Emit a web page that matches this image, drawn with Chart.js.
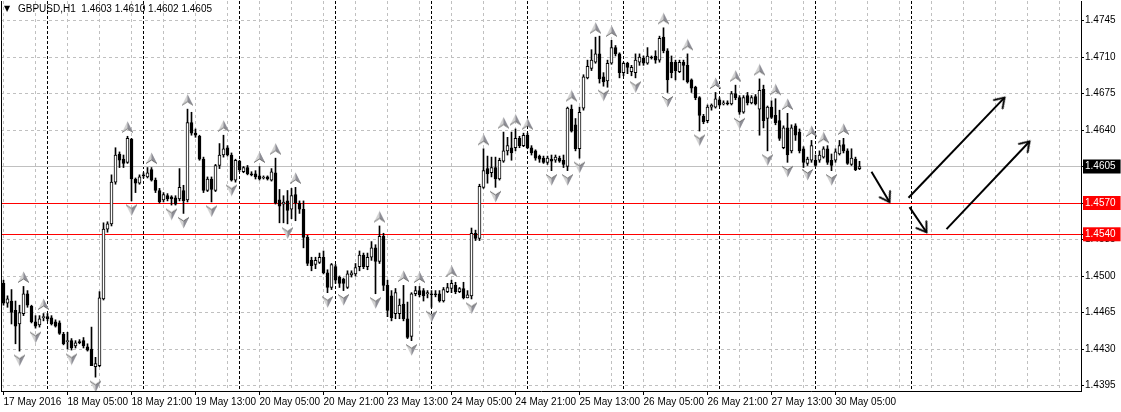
<!DOCTYPE html>
<html>
<head>
<meta charset="utf-8">
<title>GBPUSD,H1</title>
<script src="https://cdn.jsdelivr.net/npm/chart.js@4.4.1/dist/chart.umd.min.js"></script>
<style>
    html, body { margin: 0; padding: 0; background: #fff; }
    canvas { display: block; }
</style>
</head>
<body>
<canvas id="priceChart" width="1121" height="412"></canvas>
<script>
(function () {
    'use strict';

    var symbol = 'GBPUSD,H1';

    // H1 bars, 17 May 2016 13:00 .. 30 May 2016 11:00
    var barOpen = [
        1.4493,1.4474,1.4476,1.4467,1.4454,1.4464,1.4483,1.4471,1.4456,1.4453,
        1.4460,1.4461,1.4460,1.4456,1.4455,1.4444,1.4437,1.4438,1.4433,1.4437,
        1.4438,1.4432,1.4430,1.4413,1.4414,1.4478,1.4545,1.4550,1.4590,1.4617,
        1.4612,1.4609,1.4631,1.4593,1.4589,1.4597,1.4595,1.4602,1.4592,1.4582,
        1.4573,1.4577,1.4576,1.4575,1.4574,1.4582,1.4573,1.4647,1.4637,1.4634,
        1.4612,1.4582,1.4593,1.4582,1.4606,1.4616,1.4623,1.4616,1.4592,1.4610,
        1.4600,1.4604,1.4598,1.4598,1.4596,1.4594,1.4595,1.4592,1.4599,1.4573,
        1.4569,1.4572,1.4564,1.4578,1.4570,1.4564,1.4537,1.4515,1.4511,1.4513,
        1.4518,1.4503,1.4489,1.4509,1.4499,1.4497,1.4489,1.4501,1.4502,1.4509,
        1.4520,1.4509,1.4518,1.4527,1.4514,1.4538,1.4491,1.4481,1.4464,1.4464,
        1.4473,1.4459,1.4442,1.4483,1.4486,1.4486,1.4483,1.4483,1.4483,1.4483,
        1.4476,1.4485,1.4488,1.4491,1.4485,1.4488,1.4479,1.4481,1.4541,1.4536,
        1.4585,1.4603,1.4599,1.4604,1.4593,1.4610,1.4620,1.4623,1.4623,1.4632,
        1.4625,1.4635,1.4623,1.4620,1.4615,1.4613,1.4609,1.4612,1.4611,1.4613,
        1.4611,1.4605,1.4660,1.4645,1.4622,1.4661,1.4690,1.4699,1.4705,1.4713,
        1.4691,1.4687,1.4704,1.4719,1.4713,1.4695,1.4704,1.4696,1.4695,1.4705,
        1.4709,1.4704,1.4710,1.4711,1.4707,1.4729,1.4716,1.4705,1.4705,1.4696,
        1.4705,1.4702,1.4688,1.4681,1.4671,1.4653,1.4649,1.4662,1.4662,1.4669,
        1.4665,1.4666,1.4665,1.4675,1.4671,1.4657,1.4673,1.4666,1.4672,1.4660,
        1.4679,1.4651,1.4662,1.4654,1.4649,1.4623,1.4642,1.4620,1.4644,1.4638,
        1.4622,1.4608,1.4611,1.4611,1.4611,1.4614,1.4622,1.4611,1.4611,1.4617,
        1.4626,1.4620,1.4607,1.4612,1.4603
    ];
    var barHigh = [
        1.4496,1.4481,1.4487,1.4476,1.4472,1.4490,1.4486,1.4472,1.4462,1.4462,
        1.4464,1.4464,1.4462,1.4458,1.4457,1.4446,1.4446,1.4440,1.4438,1.4439,
        1.4441,1.4435,1.4451,1.4422,1.4485,1.4551,1.4552,1.4597,1.4623,1.4619,
        1.4616,1.4634,1.4632,1.4594,1.4597,1.4599,1.4604,1.4604,1.4594,1.4584,
        1.4580,1.4579,1.4577,1.4577,1.4603,1.4587,1.4660,1.4657,1.4641,1.4635,
        1.4614,1.4595,1.4595,1.4607,1.4627,1.4635,1.4625,1.4618,1.4612,1.4611,
        1.4605,1.4606,1.4600,1.4601,1.4605,1.4596,1.4596,1.4603,1.4613,1.4583,
        1.4577,1.4582,1.4584,1.4585,1.4572,1.4572,1.4539,1.4518,1.4518,1.4522,
        1.4524,1.4506,1.4512,1.4511,1.4500,1.4498,1.4505,1.4505,1.4512,1.4524,
        1.4522,1.4522,1.4533,1.4530,1.4548,1.4541,1.4496,1.4486,1.4488,1.4478,
        1.4491,1.4475,1.4484,1.4490,1.4490,1.4488,1.4486,1.4486,1.4486,1.4486,
        1.4489,1.4493,1.4496,1.4494,1.4489,1.4494,1.4486,1.4546,1.4544,1.4588,
        1.4622,1.4615,1.4614,1.4614,1.4613,1.4638,1.4633,1.4638,1.4641,1.4634,
        1.4637,1.4637,1.4625,1.4621,1.4616,1.4615,1.4615,1.4616,1.4616,1.4615,
        1.4616,1.4662,1.4664,1.4651,1.4662,1.4693,1.4707,1.4717,1.4729,1.4730,
        1.4695,1.4707,1.4726,1.4721,1.4714,1.4705,1.4705,1.4702,1.4713,1.4713,
        1.4711,1.4719,1.4711,1.4716,1.4730,1.4738,1.4718,1.4711,1.4707,1.4707,
        1.4707,1.4713,1.4689,1.4682,1.4672,1.4655,1.4664,1.4665,1.4676,1.4671,
        1.4668,1.4668,1.4677,1.4683,1.4673,1.4673,1.4676,1.4673,1.4674,1.4689,
        1.4683,1.4663,1.4668,1.4670,1.4659,1.4644,1.4656,1.4645,1.4646,1.4641,
        1.4624,1.4614,1.4630,1.4616,1.4620,1.4624,1.4625,1.4617,1.4622,1.4630,
        1.4632,1.4622,1.4622,1.4614,1.4610
    ];
    var barLow = [
        1.4472,1.4470,1.4454,1.4435,1.4428,1.4462,1.4470,1.4455,1.4450,1.4451,
        1.4457,1.4457,1.4453,1.4451,1.4444,1.4434,1.4430,1.4429,1.4431,1.4435,
        1.4431,1.4428,1.4414,1.4403,1.4413,1.4477,1.4542,1.4548,1.4588,1.4604,
        1.4604,1.4608,1.4572,1.4580,1.4588,1.4594,1.4594,1.4591,1.4580,1.4570,
        1.4571,1.4572,1.4568,1.4568,1.4572,1.4560,1.4571,1.4635,1.4633,1.4611,
        1.4580,1.4581,1.4571,1.4581,1.4603,1.4614,1.4615,1.4591,1.4590,1.4600,
        1.4599,1.4597,1.4596,1.4593,1.4592,1.4593,1.4592,1.4591,1.4569,1.4551,
        1.4551,1.4550,1.4555,1.4553,1.4560,1.4527,1.4510,1.4505,1.4507,1.4512,
        1.4502,1.4484,1.4487,1.4493,1.4489,1.4486,1.4488,1.4499,1.4500,1.4505,
        1.4507,1.4506,1.4515,1.4483,1.4512,1.4486,1.4461,1.4457,1.4459,1.4459,
        1.4457,1.4440,1.4438,1.4481,1.4480,1.4476,1.4479,1.4470,1.4480,1.4475,
        1.4475,1.4484,1.4484,1.4483,1.4484,1.4478,1.4479,1.4478,1.4534,1.4534,
        1.4584,1.4589,1.4595,1.4585,1.4592,1.4609,1.4616,1.4611,1.4620,1.4623,
        1.4624,1.4622,1.4616,1.4611,1.4609,1.4608,1.4607,1.4601,1.4609,1.4609,
        1.4604,1.4601,1.4638,1.4620,1.4613,1.4659,1.4689,1.4697,1.4704,1.4685,
        1.4682,1.4681,1.4703,1.4711,1.4690,1.4692,1.4694,1.4692,1.4690,1.4702,
        1.4702,1.4703,1.4708,1.4704,1.4705,1.4714,1.4676,1.4690,1.4688,1.4695,
        1.4688,1.4685,1.4676,1.4669,1.4639,1.4646,1.4647,1.4659,1.4661,1.4663,
        1.4664,1.4664,1.4664,1.4669,1.4655,1.4656,1.4664,1.4665,1.4664,1.4635,
        1.4642,1.4620,1.4651,1.4645,1.4630,1.4622,1.4609,1.4618,1.4630,1.4618,
        1.4604,1.4606,1.4609,1.4605,1.4609,1.4613,1.4607,1.4601,1.4609,1.4616,
        1.4618,1.4607,1.4606,1.4601,1.4602
    ];
    var barClose = [
        1.4474,1.4478,1.4465,1.4452,1.4465,1.4483,1.4472,1.4456,1.4452,1.4459,
        1.4461,1.4459,1.4454,1.4452,1.4445,1.4435,1.4438,1.4431,1.4436,1.4436,
        1.4433,1.4429,1.4414,1.4416,1.4479,1.4545,1.4550,1.4590,1.4616,1.4611,
        1.4608,1.4632,1.4593,1.4589,1.4595,1.4596,1.4599,1.4592,1.4582,1.4571,
        1.4578,1.4574,1.4574,1.4569,1.4585,1.4572,1.4647,1.4637,1.4635,1.4612,
        1.4582,1.4593,1.4583,1.4606,1.4616,1.4622,1.4616,1.4592,1.4611,1.4602,
        1.4604,1.4598,1.4597,1.4595,1.4593,1.4594,1.4593,1.4600,1.4570,1.4567,
        1.4571,1.4563,1.4577,1.4570,1.4564,1.4537,1.4512,1.4510,1.4515,1.4518,
        1.4503,1.4489,1.4511,1.4496,1.4493,1.4493,1.4502,1.4503,1.4508,1.4520,
        1.4509,1.4518,1.4527,1.4514,1.4538,1.4491,1.4467,1.4460,1.4484,1.4472,
        1.4459,1.4441,1.4483,1.4486,1.4482,1.4481,1.4484,1.4482,1.4482,1.4476,
        1.4487,1.4489,1.4493,1.4485,1.4488,1.4479,1.4482,1.4541,1.4536,1.4586,
        1.4601,1.4598,1.4604,1.4593,1.4611,1.4620,1.4625,1.4618,1.4632,1.4625,
        1.4635,1.4623,1.4618,1.4613,1.4612,1.4609,1.4613,1.4610,1.4614,1.4610,
        1.4607,1.4661,1.4639,1.4622,1.4657,1.4691,1.4701,1.4707,1.4713,1.4689,
        1.4686,1.4704,1.4719,1.4713,1.4695,1.4704,1.4700,1.4700,1.4707,1.4710,
        1.4704,1.4711,1.4709,1.4707,1.4728,1.4716,1.4688,1.4695,1.4697,1.4705,
        1.4702,1.4686,1.4680,1.4671,1.4654,1.4648,1.4662,1.4664,1.4670,1.4664,
        1.4666,1.4665,1.4675,1.4671,1.4657,1.4671,1.4666,1.4671,1.4665,1.4678,
        1.4649,1.4662,1.4652,1.4647,1.4632,1.4642,1.4616,1.4642,1.4635,1.4620,
        1.4609,1.4612,1.4625,1.4606,1.4616,1.4622,1.4609,1.4606,1.4619,1.4625,
        1.4620,1.4608,1.4613,1.4602,1.4605
    ];

    // bar indexes carrying a fractal arrow
    var upFractals = [5, 10, 31, 37, 46, 55, 64, 68, 73, 94, 100, 104, 112, 120, 125, 128, 131,
        142, 148, 152, 165, 171, 178, 183, 189, 193, 196, 202, 205, 210];
    var downFractals = [4, 8, 17, 23, 32, 42, 45, 52, 57, 71, 81, 85, 93, 102, 107, 117, 123,
        137, 141, 144, 150, 158, 166, 174, 184, 191, 196, 201, 207];

    // time axis: one label every 16 bars, day separators every 24 bars
    var timeLabels = ['17 May 2016', '18 May 05:00', '18 May 21:00', '19 May 13:00', '20 May 05:00',
        '20 May 21:00', '23 May 13:00', '24 May 05:00', '24 May 21:00', '25 May 13:00',
        '26 May 05:00', '26 May 21:00', '27 May 13:00', '30 May 05:00'];
    var labelStep = 16;
    var gridStep = 8;
    var daySeparators = [11, 35, 59, 83, 107, 131, 155, 179, 203, 227];
    var lastSlot = 269;

    // price axis
    var priceTicks = [1.4395, 1.4430, 1.4465, 1.4500, 1.4535, 1.4570, 1.4605, 1.4640, 1.4675, 1.4710, 1.4745];
    var bidLevel = 1.4605;
    var redLevels = [1.4570, 1.4540];

    // hand drawn arrows, [bar, price] start and end
    var arrowFrom = [[217, 1.4600], [226.25, 1.4575], [226.5, 1.4566], [235.75, 1.4545]];
    var arrowTo = [[221.5, 1.4571], [250.25, 1.4671], [230.75, 1.4542], [256.5, 1.4629]];

    var FONT = 'Liberation Sans, Arial, sans-serif';

    function same(a, b) { return Math.abs(a - b) < 1e-7; }
    function isRed(v) { return redLevels.some(function (l) { return same(l, v); }); }
    function isBid(v) { return same(v, bidLevel); }
    function isSep(v) { return daySeparators.indexOf(v) !== -1; }
    function isLabelled(v) { return v % labelStep === 0 && v / labelStep < timeLabels.length; }

    function fractalIcon(up) {
        var c = document.createElement('canvas');
        c.width = 13;
        c.height = 31;
        var g = c.getContext('2d');
        if (!up) {
            g.translate(0, 31);
            g.scale(1, -1);
        }
        g.beginPath();
        g.moveTo(6.5, 0.5);
        g.lineTo(12, 11.5);
        g.lineTo(6.5, 8);
        g.lineTo(1, 11.5);
        g.closePath();
        g.fillStyle = '#d2d2d2';
        g.fill();
        g.beginPath();
        g.moveTo(6.5, 0.5);
        g.lineTo(12, 11.5);
        g.lineTo(6.5, 8);
        g.closePath();
        g.fillStyle = '#8e8e96';
        g.fill();
        g.beginPath();
        g.moveTo(1, 11.5);
        g.lineTo(6.5, 8);
        g.lineTo(12, 11.5);
        g.strokeStyle = '#707070';
        g.lineWidth = 1;
        g.stroke();
        return c;
    }

    function arrowHead() {
        var c = document.createElement('canvas');
        c.width = 26;
        c.height = 26;
        var g = c.getContext('2d');
        g.strokeStyle = '#000';
        g.lineWidth = 2;
        g.lineCap = 'round';
        g.beginPath();
        g.moveTo(4, 7);
        g.lineTo(13, 13);
        g.lineTo(4, 19);
        g.stroke();
        return c;
    }

    var upIcon = fractalIcon(true);
    var downIcon = fractalIcon(false);
    var headIcon = arrowHead();

    var wicks = barHigh.map(function (h, i) { return { x: i, y: [barLow[i], h] }; });
    var bodies = barOpen.map(function (o, i) { return { x: i, y: [o, barClose[i]] }; });

    var xTickValues = [];
    for (var t = 0; t <= lastSlot - 5; t += gridStep) { xTickValues.push(t); }
    xTickValues = xTickValues.concat(daySeparators);

    var datasets = [];

    arrowFrom.forEach(function (a, k) {
        datasets.push({
            type: 'line',
            data: [{ x: a[0], y: a[1] }, { x: arrowTo[k][0], y: arrowTo[k][1] }],
            borderColor: '#000',
            borderWidth: 2,
            tension: 0,
            fill: false,
            pointRadius: function (ctx) { return ctx.dataIndex === 1 ? 5 : 0; },
            pointStyle: headIcon,
            pointRotation: function (ctx) {
                var d = ctx.dataset.data;
                var sx = ctx.chart.scales.x;
                var sy = ctx.chart.scales.y;
                var dx = sx.getPixelForValue(d[1].x) - sx.getPixelForValue(d[0].x);
                var dy = sy.getPixelForValue(d[1].y) - sy.getPixelForValue(d[0].y);
                return Math.atan2(dy, dx) * 180 / Math.PI;
            },
            xAxisID: 'x',
            yAxisID: 'y',
            order: 0
        });
    });

    datasets.push({
        type: 'line',
        data: upFractals.map(function (i) { return { x: i, y: barHigh[i] }; }),
        showLine: false,
        pointStyle: upIcon,
        pointRadius: 5,
        xAxisID: 'x',
        yAxisID: 'y',
        order: 1
    });
    datasets.push({
        type: 'line',
        data: downFractals.map(function (i) { return { x: i, y: barLow[i] }; }),
        showLine: false,
        pointStyle: downIcon,
        pointRadius: 5,
        xAxisID: 'x',
        yAxisID: 'y',
        order: 1
    });

    datasets.push({
        type: 'bar',
        data: bodies,
        backgroundColor: function (ctx) {
            var i = ctx.dataIndex;
            return barClose[i] >= barOpen[i] ? '#ffffff' : '#000000';
        },
        borderColor: '#000',
        borderWidth: 1,
        borderSkipped: false,
        barThickness: 3,
        minBarLength: 1,
        grouped: false,
        xAxisID: 'x',
        yAxisID: 'y',
        order: 2
    });
    datasets.push({
        type: 'bar',
        data: wicks,
        backgroundColor: '#000',
        borderWidth: 0,
        barThickness: 1,
        grouped: false,
        xAxisID: 'x',
        yAxisID: 'y',
        order: 3
    });

    var n = barClose.length - 1;
    var titleText = symbol + '  ' + [barOpen[n], barHigh[n], barLow[n], barClose[n]]
        .map(function (v) { return v.toFixed(4); }).join(' ');

    var titlePlugin = {
        id: 'mtTitle',
        afterDraw: function (chart) {
            var c = chart.ctx;
            c.save();
            c.fillStyle = '#000';
            c.textBaseline = 'middle';
            c.font = '8px DejaVu Sans, sans-serif';
            c.fillText('\u25BC', 4, 9);
            c.font = '10px ' + FONT;
            c.fillText(titleText, 18, 9);
            c.restore();
        }
    };

    function noPad(s) {
        s.paddingTop = 0;
        s.paddingBottom = 0;
        s.paddingLeft = 0;
        s.paddingRight = 0;
    }

    var yMax = 1.47637;
    var yMin = 1.438973;

    new Chart(document.getElementById('priceChart').getContext('2d'), {
        type: 'bar',
        data: { datasets: datasets },
        plugins: [titlePlugin],
        options: {
            responsive: false,
            devicePixelRatio: 1,
            animation: false,
            events: [],
            layout: { autoPadding: false, padding: { top: 1, left: 0, right: 0, bottom: 0 } },
            plugins: {
                legend: { display: false },
                tooltip: { enabled: false }
            },
            scales: {
                x: {
                    type: 'linear',
                    position: 'bottom',
                    min: -0.625,
                    max: lastSlot + 0.375,
                    offset: false,
                    afterFit: function (s) { s.height = 21; noPad(s); },
                    afterBuildTicks: function (s) {
                        s.ticks = xTickValues.map(function (v) { return { value: v }; });
                    },
                    ticks: {
                        autoSkip: false,
                        maxRotation: 0,
                        minRotation: 0,
                        align: 'start',
                        padding: 1,
                        color: '#000',
                        font: { family: FONT, size: 10 },
                        callback: function (v) {
                            return isLabelled(v) ? timeLabels[v / labelStep] : '';
                        }
                    },
                    grid: {
                        offset: false,
                        lineWidth: 1,
                        color: function (ctx) {
                            if (!ctx.tick) { return '#c0c0c0'; }
                            return isSep(ctx.tick.value) ? '#000000' : '#c0c0c0';
                        },
                        tickLength: 4,
                        tickColor: function (ctx) {
                            var v = ctx.tick ? ctx.tick.value : -1;
                            return isLabelled(v) ? '#000' : 'rgba(0,0,0,0)';
                        }
                    },
                    border: {
                        color: '#000',
                        width: 1,
                        dash: function (ctx) {
                            if (!ctx.tick) { return []; }
                            return isSep(ctx.tick.value) ? [3, 2] : [3, 3];
                        }
                    }
                },
                y: {
                    type: 'linear',
                    position: 'right',
                    min: yMin,
                    max: yMax,
                    beginAtZero: false,
                    afterFit: function (s) { s.width = 40; noPad(s); },
                    afterBuildTicks: function (s) {
                        s.ticks = priceTicks.concat([redLevels[1]]).map(function (v) { return { value: v }; });
                    },
                    ticks: {
                        autoSkip: false,
                        padding: 1,
                        font: { family: FONT, size: 10 },
                        callback: function (v) { return v.toFixed(4); },
                        color: function (ctx) {
                            var v = ctx.tick ? ctx.tick.value : 0;
                            return (isRed(v) || isBid(v)) ? '#ffffff' : '#000000';
                        },
                        showLabelBackdrop: function (ctx) {
                            var v = ctx.tick ? ctx.tick.value : 0;
                            return isRed(v) || isBid(v);
                        },
                        backdropColor: function (ctx) {
                            var v = ctx.tick ? ctx.tick.value : 0;
                            return isRed(v) ? '#ff0000' : '#000000';
                        },
                        backdropPadding: { top: 1, bottom: 1, left: 2, right: 5 }
                    },
                    grid: {
                        lineWidth: 1,
                        color: function (ctx) {
                            var v = ctx.tick ? ctx.tick.value : 0;
                            return isRed(v) ? '#ff0000' : '#c0c0c0';
                        },
                        tickLength: 3,
                        tickColor: '#000'
                    },
                    border: {
                        color: '#000',
                        width: 1,
                        dash: function (ctx) {
                            if (!ctx.tick) { return []; }
                            var v = ctx.tick.value;
                            return (isRed(v) || isBid(v)) ? [] : [3, 3];
                        }
                    }
                },
                yl: {
                    type: 'linear',
                    position: 'left',
                    min: 0,
                    max: 1,
                    afterFit: function (s) { s.width = 1; noPad(s); },
                    ticks: { display: false },
                    grid: { drawOnChartArea: false, drawTicks: false },
                    border: { color: '#000', width: 1 }
                }
            }
        }
    });
})();
</script>
</body>
</html>
